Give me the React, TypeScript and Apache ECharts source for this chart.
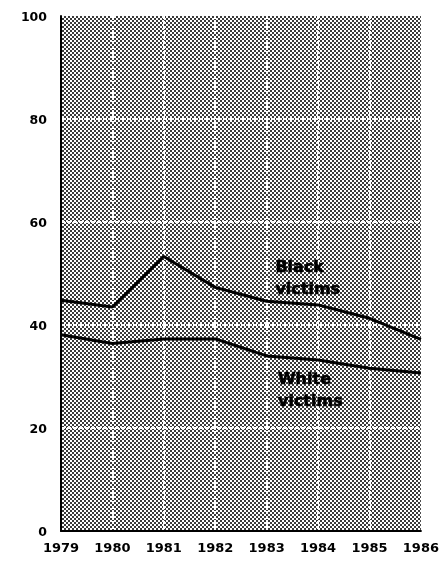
import React, { useEffect, useRef } from "react";
import * as echarts from "echarts";

const years = [1979, 1980, 1981, 1982, 1983, 1984, 1985, 1986];
const blackVictims = [44.8, 43.5, 53.3, 47.3, 44.6, 43.9, 41.3, 37.2];
const whiteVictims = [38.1, 36.4, 37.3, 37.3, 34.0, 33.2, 31.6, 30.7];
const yTicks = [0, 20, 40, 60, 80, 100];

function makePattern(): string {
  const c = document.createElement("canvas");
  c.width = 4;
  c.height = 4;
  const ctx = c.getContext("2d")!;
  ctx.fillStyle = "#ffffff";
  ctx.fillRect(0, 0, 4, 4);
  ctx.fillStyle = "#3a3a3a";
  ctx.fillRect(0, 0, 2, 2);
  ctx.fillRect(2, 2, 2, 2);
  return c.toDataURL();
}

export default function App() {
  const ref = useRef<HTMLDivElement>(null);
  useEffect(() => {
    if (!ref.current) return;
    const chart = echarts.init(ref.current, undefined, { renderer: "svg" });
    const pat = makePattern();
    const font = "DejaVu Sans";
    const labelStyle = {
      show: true,
      position: "inside",
      align: "left",
      verticalAlign: "middle",
      color: "#000",
      fontFamily: font,
      fontWeight: "bold",
      fontSize: 16,
      lineHeight: 22,
      textBorderColor: "#000",
      textBorderWidth: 0.6,
    };
    chart.setOption({
      animation: false,
      grid: {
        left: 61,
        right: 15,
        top: 16,
        bottom: 30,
        show: true,
        borderWidth: 0,
        backgroundColor: { image: pat, repeat: "repeat" } as any,
      },
      xAxis: {
        type: "value",
        min: years[0],
        max: years[years.length - 1],
        interval: 1,
        axisLine: { show: true, lineStyle: { color: "#000", width: 2 } },
        axisTick: { show: false },
        axisLabel: {
          color: "#000",
          fontFamily: font,
          fontWeight: "bold",
          fontSize: 13,
          margin: 10,
          formatter: (v: number) => String(v),
        },
        splitLine: {
          show: true,
          showMinLine: false,
          showMaxLine: false,
          lineStyle: { color: "#fff", width: 2, type: [3, 2] },
        },
      },
      yAxis: {
        type: "value",
        min: yTicks[0],
        max: yTicks[yTicks.length - 1],
        interval: 20,
        axisLine: { show: true, lineStyle: { color: "#000", width: 2 } },
        axisTick: { show: false },
        axisLabel: {
          color: "#000",
          fontFamily: font,
          fontWeight: "bold",
          fontSize: 12.5,
          margin: 14,
        },
        splitLine: {
          show: true,
          showMinLine: false,
          showMaxLine: false,
          lineStyle: { color: "#fff", width: 2, type: [4, 2] },
        },
      },
      series: [
        {
          type: "line",
          data: years.map((y, i) => [y, blackVictims[i]]),
          showSymbol: false,
          lineStyle: { color: "#000", width: 3 },
          markPoint: {
            symbolSize: 0,
            data: [
              {
                coord: [1983.17, 49.3],
                label: { ...labelStyle, formatter: "Black\nvictims" },
              },
            ],
          },
        },
        {
          type: "line",
          data: years.map((y, i) => [y, whiteVictims[i]]),
          showSymbol: false,
          lineStyle: { color: "#000", width: 3 },
          markPoint: {
            symbolSize: 0,
            data: [
              {
                coord: [1983.22, 27.5],
                label: { ...labelStyle, formatter: "White\nvictims" },
              },
            ],
          },
        },
      ],
    });
    return () => chart.dispose();
  }, []);
  return (
    <div
      ref={ref}
      style={{ position: "fixed", left: 0, top: 0, width: 442, height: 561 }}
    />
  );
}
